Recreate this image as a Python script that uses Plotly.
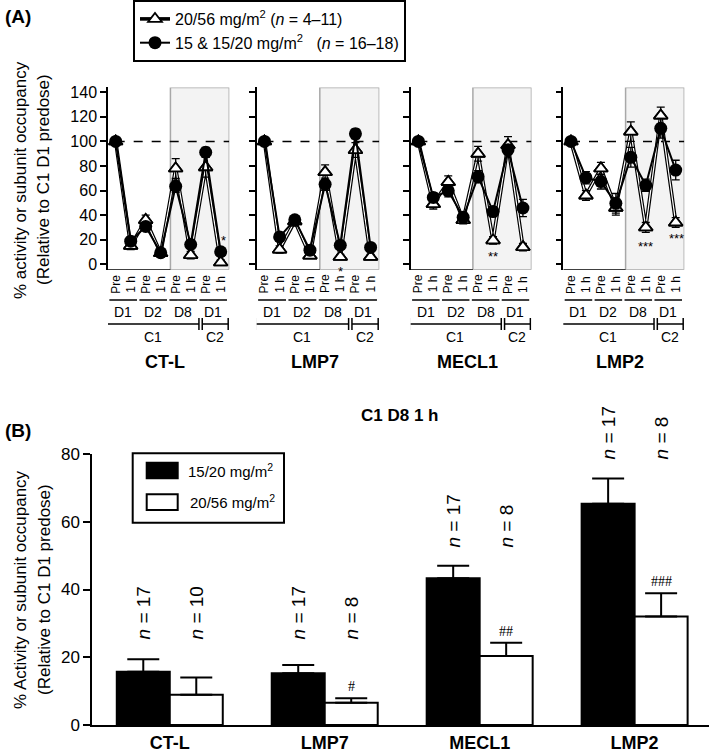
import plotly.graph_objects as go

# ---------------- DATA ----------------
subunits = ["CT-L", "LMP7", "MECL1", "LMP2"]
timepoints = ["Pre", "1 h", "Pre", "1 h", "Pre", "1 h", "Pre", "1 h"]
day_labels = ["D1", "D2", "D8", "D1"]
cycle_labels = ["C1", "C2"]

# 20/56 mg/m2 (open triangles)
ctl_high = [100, 15, 36, 9, 78, 7.5, 79, 1.5]
lmp7_high = [100, 12, 35, 7, 75, 6, 93, 6]
mecl1_high = [100, 49, 67, 36, 90, 19.5, 97, 14]
lmp2_high = [100, 56, 78, 46, 108, 30, 121, 34]
ctl_high_err = [0, 3, 4, 2, 8, 3, 8, 2]
lmp7_high_err = [0, 3, 4, 2, 6, 2, 6, 2]
mecl1_high_err = [0, 4, 5, 3, 6, 3, 7, 3]
lmp2_high_err = [0, 4, 5, 6, 8, 4, 7, 4]

# 15 & 15/20 mg/m2 (filled circles)
ctl_low = [100, 18.8, 30.8, 9.4, 63.5, 16.1, 91.2, 10.2]
lmp7_low = [100, 22.3, 36.2, 11.5, 65.1, 15.5, 106.2, 13.7]
mecl1_low = [100, 54.4, 59.8, 38.3, 71.3, 42.9, 93.3, 45.8]
lmp2_low = [100, 70.5, 67.3, 49.6, 87.1, 64.3, 110.7, 76.7]
ctl_low_err = [0, 3, 3, 2, 5, 3, 4, 3]
lmp7_low_err = [0, 3, 3, 2, 5, 3, 4, 3]
mecl1_low_err = [0, 4, 5, 4, 5, 4, 4, 7]
lmp2_low_err = [0, 5, 6, 8, 8, 5, 8, 8]

# significance marks panel A
star_panel = [0, 1, 2, 3, 3]
star_x = [7.2, 5, 5, 5, 7.05]
star_y = [23, -2.5, 9.5, 17.5, 24.5]
star_text = ["*", "*", "**", "***", "***"]

# panel B (C1 D8 1 h)
b_low = [15.7, 15.3, 43.3, 65.3]
b_low_err = [3.7, 2.4, 3.7, 7.5]
b_high = [8.9, 6.6, 20.4, 32.0]
b_high_err = [5.1, 1.3, 3.9, 6.9]
n_low = [17, 17, 17, 17]
n_high = [10, 8, 8, 8]
hash_text = ["", "#", "##", "###"]

# ---------------- LAYOUT HELPERS ----------------
W, H = 709, 754
def PX(px):
    return px / W
def PY(py):
    return 1 - py / H

FONT = "Arial, Liberation Sans, sans-serif"
high_series = [ctl_high, lmp7_high, mecl1_high, lmp2_high]
high_errs = [ctl_high_err, lmp7_high_err, mecl1_high_err, lmp2_high_err]
low_series = [ctl_low, lmp7_low, mecl1_low, lmp2_low]
low_errs = [ctl_low_err, lmp7_low_err, mecl1_low_err, lmp2_low_err]

fig = go.Figure()
xdoms = [(108, 229.3), (256.7, 379.3), (410.7, 531.5), (563.3, 684.3)]
XR = [-0.513, 7.574]
YR = [-4.5, 144]
xs = list(range(len(timepoints)))

shapes = []
annotations = []

def pann(x, y, text, size, xanchor="center", yanchor="middle", angle=0, **kw):
    return dict(xref="paper", yref="paper", x=x, y=y, text=text, showarrow=False,
                xanchor=xanchor, yanchor=yanchor, textangle=angle,
                font=dict(size=size, color="black", **kw))

tri_marker = dict(symbol="triangle-up", size=12, color="white", line=dict(color="black", width=1.8))

for i, name in enumerate(subunits):
    sfx = "" if i == 0 else str(i + 1)
    xa, ya = "x" + sfx, "y" + sfx
    # 20/56: outlined (hollow) connecting line, then open triangles
    fig.add_trace(go.Scatter(
        x=xs, y=high_series[i], xaxis=xa, yaxis=ya, mode="lines+markers",
        name="20/56 mg/m<sup>2</sup> (<i>n</i> = 4–11)", legendgroup="high",
        showlegend=(i == 0), line=dict(color="black", width=3.6), marker=tri_marker,
    ))
    fig.add_trace(go.Scatter(
        x=xs, y=high_series[i], xaxis=xa, yaxis=ya, mode="lines", showlegend=False,
        legendgroup="high", line=dict(color="white", width=1.2), hoverinfo="skip",
    ))
    fig.add_trace(go.Scatter(
        x=xs, y=high_series[i], xaxis=xa, yaxis=ya, mode="markers", showlegend=False,
        legendgroup="high", marker=tri_marker,
        error_y=dict(type="data", array=high_errs[i], color="black", thickness=1.3, width=4),
    ))
    fig.add_trace(go.Scatter(
        x=xs, y=low_series[i], xaxis=xa, yaxis=ya, mode="lines+markers",
        name="15 &amp; 15/20 mg/m<sup>2</sup>&nbsp;&nbsp;&nbsp;(<i>n</i> = 16–18)", legendgroup="low",
        showlegend=(i == 0),
        line=dict(color="black", width=2),
        marker=dict(symbol="circle", size=13, color="black"),
        error_y=dict(type="data", array=low_errs[i], color="black", thickness=1.3, width=4),
    ))
    fig.update_layout(**{
        "xaxis" + sfx: dict(domain=[PX(xdoms[i][0]), PX(xdoms[i][1])], range=XR,
                            showline=False, showticklabels=False, ticks="", showgrid=False,
                            zeroline=False, anchor=ya, automargin=False),
        "yaxis" + sfx: dict(domain=[PY(269.8), PY(87.4)], range=YR, showline=True,
                            linecolor="black", linewidth=1.5, ticks="outside", ticklen=6,
                            tickwidth=1.5, tickcolor="black", tickvals=list(range(0, 141, 20)),
                            showticklabels=(i == 0), tickfont=dict(size=16, color="black"),
                            showgrid=False, zeroline=False, anchor=xa, automargin=False),
    })
    # shaded D8 / C2 region
    shapes.append(dict(type="rect", xref=xa, yref=ya, x0=3.65, x1=XR[1], y0=YR[0], y1=YR[1],
                       fillcolor="#f3f3f3", line=dict(color="#a8a8a8", width=1.5), layer="below"))
    # bottom axis line up to shade
    shapes.append(dict(type="line", xref=xa, yref=ya, x0=XR[0], x1=3.65, y0=YR[0], y1=YR[0],
                       line=dict(color="black", width=1.5)))
    # dashed 100 % reference
    shapes.append(dict(type="line", xref=xa, yref=ya, x0=0, x1=XR[1], y0=100, y1=100,
                       line=dict(color="black", width=1.5, dash="dash"), layer="below"))
    # time point labels
    for j, t in enumerate(timepoints):
        annotations.append(dict(xref=xa, yref="paper", x=j, y=PY(284), text=t, showarrow=False,
                                textangle=-90, xanchor="center", yanchor="middle",
                                font=dict(size=12, color="black")))
    # day underlines and labels
    for k, d in enumerate(day_labels):
        shapes.append(dict(type="line", xref=xa, yref="paper", x0=2 * k - 0.42, x1=2 * k + 1.42,
                           y0=PY(300), y1=PY(300), line=dict(color="black", width=1.5)))
        annotations.append(dict(xref=xa, yref="paper", x=2 * k + 0.5, y=PY(312), text=d,
                                showarrow=False, xanchor="center", yanchor="middle",
                                font=dict(size=14, color="black")))
    # cycle brackets
    c1a, c1b, c2a, c2b = -0.6, 5.55, 5.77, 7.5
    for (a, b) in [(c1a, c1b), (c2a, c2b)]:
        shapes.append(dict(type="line", xref=xa, yref="paper", x0=a, x1=b, y0=PY(324), y1=PY(324),
                           line=dict(color="black", width=1.5)))
        for e in (a, b):
            shapes.append(dict(type="line", xref=xa, yref="paper", x0=e, x1=e, y0=PY(318), y1=PY(330),
                               line=dict(color="black", width=1.5)))
    annotations.append(dict(xref=xa, yref="paper", x=(c1a + c1b) / 2, y=PY(337), text=cycle_labels[0],
                            showarrow=False, xanchor="center", yanchor="middle",
                            font=dict(size=14, color="black")))
    annotations.append(dict(xref=xa, yref="paper", x=(c2a + c2b) / 2, y=PY(337), text=cycle_labels[1],
                            showarrow=False, xanchor="center", yanchor="middle",
                            font=dict(size=14, color="black")))
    # subunit title
    annotations.append(dict(xref=xa, yref="paper", x=3.3, y=PY(362), text="<b>%s</b>" % name,
                            showarrow=False, xanchor="center", yanchor="middle",
                            font=dict(size=18, color="black")))

for p, sx, sy, st in zip(star_panel, star_x, star_y, star_text):
    sfx = "" if p == 0 else str(p + 1)
    annotations.append(dict(xref="x" + sfx, yref="y" + sfx, x=sx, y=sy, text=st, showarrow=False,
                            yshift=-4, font=dict(size=13, color="black")))

# ---------------- PANEL B ----------------
grp = list(range(len(subunits)))
fig.add_trace(go.Bar(
    x=grp, y=b_low, xaxis="x5", yaxis="y5", showlegend=False, name="15/20 mg/m2",
    marker=dict(color="black", line=dict(color="black", width=2)),
    error_y=dict(type="data", array=b_low_err, arrayminus=[0] * 4, symmetric=False,
                 color="black", thickness=2, width=16),
))
fig.add_trace(go.Bar(
    x=grp, y=b_high, xaxis="x5", yaxis="y5", showlegend=False, name="20/56 mg/m2",
    marker=dict(color="white", line=dict(color="black", width=2)),
    error_y=dict(type="data", array=b_high_err, arrayminus=[0] * 4, symmetric=False,
                 color="black", thickness=2, width=16),
))
fig.update_layout(
    barmode="group", bargap=0.316, bargroupgap=0,
    xaxis5=dict(domain=[PX(92.3), 1.0], range=[-0.5, 3.48], tickvals=grp,
                ticktext=["<b>%s</b>" % s for s in subunits], tickfont=dict(size=18, color="black"),
                showline=True, linecolor="black", linewidth=2, ticks="", showgrid=False,
                zeroline=False, anchor="y5", automargin=False),
    yaxis5=dict(domain=[PY(725), PY(454)], range=[0, 80], tickvals=[0, 20, 40, 60, 80],
                tickfont=dict(size=17, color="black"), showline=True, linecolor="black",
                linewidth=2, ticks="outside", ticklen=7, tickwidth=2, tickcolor="black",
                showgrid=False, zeroline=False, anchor="x5", automargin=False),
)
n_label_y = [24.6, 24.6, 51.7, 77.7]
off = 0.171
for g in grp:
    annotations.append(dict(xref="x5", yref="y5", x=g - off, y=n_label_y[g],
                            text="<i>n</i> = %d" % n_low[g], textangle=-90, showarrow=False,
                            xanchor="center", yanchor="bottom", font=dict(size=19, color="black")))
    annotations.append(dict(xref="x5", yref="y5", x=g + off, y=n_label_y[g],
                            text="<i>n</i> = %d" % n_high[g], textangle=-90, showarrow=False,
                            xanchor="center", yanchor="bottom", font=dict(size=19, color="black")))
    if hash_text[g]:
        annotations.append(dict(xref="x5", yref="y5", x=g + off, y=b_high[g] + b_high_err[g] + 0.6,
                                text=hash_text[g], showarrow=False, xanchor="center", yanchor="bottom",
                                font=dict(size=14, color="black",
                                          family="Liberation Serif, Times New Roman, serif")))

# manual legend for panel B
shapes.append(dict(type="rect", xref="paper", yref="paper", x0=PX(132.7), x1=PX(284),
                   y0=PY(522.7), y1=PY(453.3), line=dict(color="black", width=2), fillcolor="white"))
shapes.append(dict(type="rect", xref="paper", yref="paper", x0=PX(146.7), x1=PX(177.7),
                   y0=PY(478.3), y1=PY(462.7), line=dict(color="black", width=2), fillcolor="black"))
shapes.append(dict(type="rect", xref="paper", yref="paper", x0=PX(146.7), x1=PX(177.7),
                   y0=PY(510), y1=PY(494.3), line=dict(color="black", width=2), fillcolor="white"))
annotations.append(pann(PX(186), PY(470.5), "15/20 mg/m<sup>2</sup>", 15, xanchor="left"))
annotations.append(pann(PX(188), PY(502), "20/56 mg/m<sup>2</sup>", 15, xanchor="left"))

# titles / panel labels (axis titles as single-line rotated annotations)
annotations += [
    pann(PX(3), PY(16), "<b>(A)</b>", 19, xanchor="left"),
    pann(PX(3), PY(430), "<b>(B)</b>", 19, xanchor="left"),
    pann(PX(20), PY(180), "% activity or subunit occupancy", 17, angle=-90),
    pann(PX(43), PY(180), "(Relative to C1 D1 predose)", 17, angle=-90),
    pann(PX(20), PY(590), "% Activity or subunit occupancy", 17, angle=-90),
    pann(PX(44), PY(590), "(Relative to C1 D1 predose)", 17, angle=-90),
    pann(PX(399), PY(415), "<b>C1 D8 1 h</b>", 17),
]

fig.update_layout(
    width=W, height=H, margin=dict(l=0, r=0, t=0, b=0, autoexpand=False), autosize=False,
    paper_bgcolor="white", plot_bgcolor="rgba(0,0,0,0)",
    font=dict(family=FONT, color="black"),
    shapes=shapes, annotations=annotations,
    legend=dict(x=PX(133), y=PY(0), xanchor="left", yanchor="top", bgcolor="white",
                bordercolor="black", borderwidth=2, font=dict(size=16, color="black"),
                itemwidth=30, tracegroupgap=0),
)

# remove the browser's default 8 px page margin so the figure fills the window exactly
fig.write_html("out.html", config={"displayModeBar": False},
               post_script="document.body.style.margin='0px';")
